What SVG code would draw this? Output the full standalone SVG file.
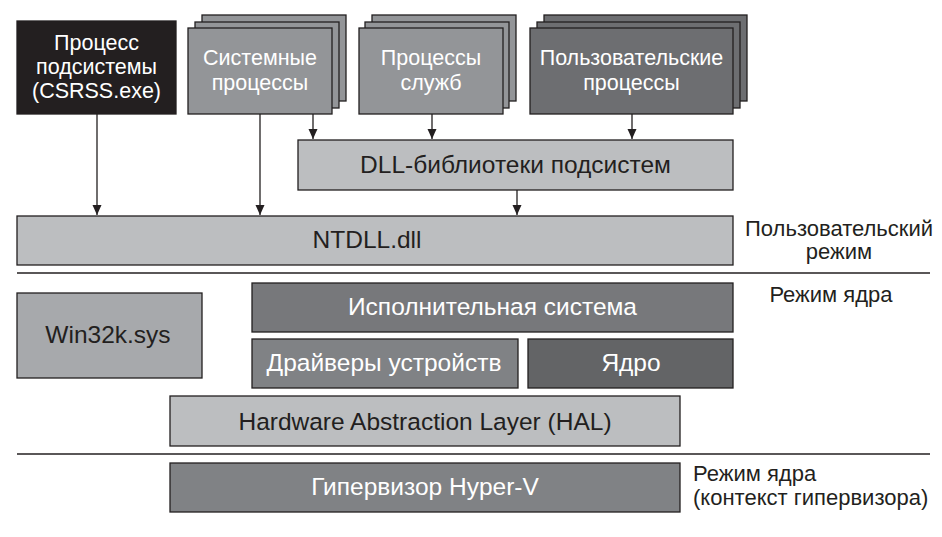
<svg xmlns="http://www.w3.org/2000/svg" width="942" height="537" viewBox="0 0 942 537">
<defs>
<marker id="ah" viewBox="0 0 10 12" refX="10" refY="6" markerWidth="10" markerHeight="12" markerUnits="userSpaceOnUse" orient="auto">
<path d="M0,1.5 L10,6 L0,10.5 Z" fill="#231f20"/>
</marker>
<style>
.b{stroke:#231f20;stroke-width:1.3}
.t{font-family:"Liberation Sans",Arial,sans-serif;font-size:21.5px;text-anchor:middle}
.L{font-size:24.5px}
.w{fill:#ffffff}
.k{fill:#231f20}
.lab{font-family:"Liberation Sans",Arial,sans-serif;font-size:22px;fill:#231f20}
.conn line{stroke:#231f20;stroke-width:1.3}
</style>
</defs>
<rect x="0" y="0" width="942" height="537" fill="#ffffff"/>

<g id="csrss">
<rect class="b" x="17" y="21" width="159" height="93" fill="#231f20"/>
<text class="t w" x="96.5" y="50">Процесс</text>
<text class="t w" x="96.5" y="74">подсистемы</text>
<text class="t w" x="96.5" y="98">(CSRSS.exe)</text>
</g>

<g id="sysproc">
<rect class="b" x="202" y="15" width="144" height="86" fill="#939598"/>
<rect class="b" x="195" y="22" width="144" height="86" fill="#939598"/>
<rect class="b" x="188" y="28" width="144" height="86" fill="#939598"/>
<text class="t w" x="260" y="65">Системные</text>
<text class="t w" x="260" y="90">процессы</text>
</g>

<g id="services">
<rect class="b" x="372" y="15" width="144" height="86" fill="#939598"/>
<rect class="b" x="365" y="22" width="144" height="86" fill="#939598"/>
<rect class="b" x="359" y="28" width="144" height="86" fill="#939598"/>
<text class="t w" x="431" y="65">Процессы</text>
<text class="t w" x="431" y="90">служб</text>
</g>

<g id="userproc">
<rect class="b" x="544" y="15" width="203" height="86" fill="#6d6e71"/>
<rect class="b" x="537" y="22" width="203" height="86" fill="#6d6e71"/>
<rect class="b" x="530" y="28" width="203" height="86" fill="#6d6e71"/>
<text class="t w" x="631.5" y="65">Пользовательские</text>
<text class="t w" x="631.5" y="90">процессы</text>
</g>

<g id="dll">
<rect class="b" x="298" y="140" width="435" height="50" fill="#bcbec0"/>
<text class="t L k" x="515.5" y="173">DLL-библиотеки подсистем</text>
</g>

<g id="ntdll">
<rect class="b" x="17" y="216" width="716" height="49" fill="#bcbec0"/>
<text class="t L k" x="367" y="248">NTDLL.dll</text>
</g>

<g id="win32k">
<rect class="b" x="17" y="293" width="185" height="85" fill="#a7a9ac"/>
<text class="t L k" x="108" y="343">Win32k.sys</text>
</g>

<g id="executive">
<rect class="b" x="252" y="283" width="481" height="49" fill="#77787b"/>
<text class="t L w" x="492.5" y="315">Исполнительная система</text>
</g>

<g id="drivers">
<rect class="b" x="252" y="339" width="266" height="49" fill="#808285"/>
<text class="t L w" x="384" y="371">Драйверы устройств</text>
</g>

<g id="kernel">
<rect class="b" x="528" y="339" width="205" height="49" fill="#636466"/>
<text class="t L w" x="631" y="371">Ядро</text>
</g>

<g id="hal">
<rect class="b" x="170" y="396" width="510" height="50" fill="#bcbec0"/>
<text class="t L k" x="425" y="430">Hardware Abstraction Layer (HAL)</text>
</g>

<g id="hyperv">
<rect class="b" x="170" y="463" width="510" height="49" fill="#808285"/>
<text class="t L w" x="425" y="495">Гипервизор Hyper-V</text>
</g>

<g id="separators">
<line x1="17" y1="273" x2="930" y2="273" stroke="#231f20" stroke-width="1.3"/>
<line x1="17" y1="454" x2="930" y2="454" stroke="#231f20" stroke-width="1.3"/>
</g>

<g id="labels">
<text class="lab" x="839" y="236" text-anchor="middle">Пользовательский</text>
<text class="lab" x="839" y="259" text-anchor="middle">режим</text>
<text class="lab" x="831" y="302" text-anchor="middle">Режим ядра</text>
<text class="lab" x="693" y="481">Режим ядра</text>
<text class="lab" x="693" y="505">(контекст гипервизора)</text>
</g>

<g id="connectors" class="conn">
<line x1="97" y1="114" x2="97" y2="215" marker-end="url(#ah)"/>
<line x1="260" y1="114" x2="260" y2="215" marker-end="url(#ah)"/>
<line x1="313" y1="114" x2="313" y2="139" marker-end="url(#ah)"/>
<line x1="432" y1="114" x2="432" y2="139" marker-end="url(#ah)"/>
<line x1="632" y1="114" x2="632" y2="139" marker-end="url(#ah)"/>
<line x1="517" y1="190" x2="517" y2="215" marker-end="url(#ah)"/>
</g>
</svg>
